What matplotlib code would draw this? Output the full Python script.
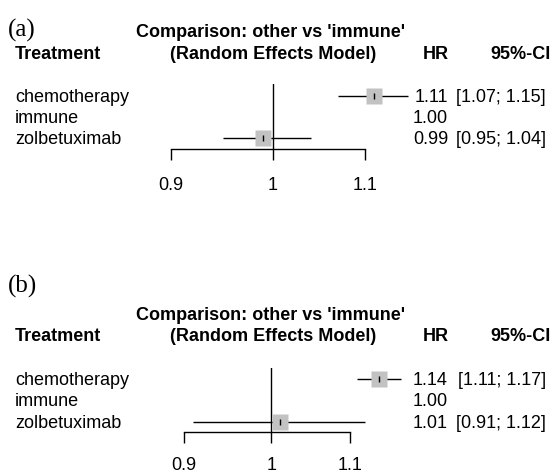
import matplotlib
matplotlib.use("Agg")
import matplotlib.pyplot as plt
import numpy as np

# ---------------- data ----------------
treatments = ["chemotherapy", "immune", "zolbetuximab"]
reference = "immune"

hr_a = [1.11, 1.00, 0.99]
lo_a = [1.07, np.nan, 0.95]
hi_a = [1.15, np.nan, 1.04]

hr_b = [1.14, 1.00, 1.01]
lo_b = [1.11, np.nan, 0.91]
hi_b = [1.17, np.nan, 1.12]

tick_vals = [0.9, 1.0, 1.1]
tick_labels = ["0.9", "1", "1.1"]

panel_labels = ["(a)", "(b)"]
title_line1 = "Comparison: other vs 'immune'"
title_line2 = "(Random Effects Model)"
col_headers = ["Treatment", "HR", "95%-CI"]

# ---------------- layout (pixels) ----------------
W, H, DPI = 553, 473, 100
SANS = "Liberation Sans"
SERIF = "Liberation Serif"
FS = 13
SQ_COLOR = "#c2c2c2"

fig = plt.figure(figsize=(W / DPI, H / DPI), dpi=DPI)


def fx(x):
    return x / W


def fy(y):
    return 1 - y / H


def ftext(x, y, s, **kw):
    kw.setdefault("family", SANS)
    kw.setdefault("fontsize", FS)
    kw.setdefault("color", "black")
    fig.text(fx(x), fy(y), s, **kw)


def fmt_ci(lo, hi):
    if np.isnan(lo):
        return ""
    return f"[{lo:.2f}; {hi:.2f}]"


panels = [
    dict(label=panel_labels[0], hr=hr_a, lo=lo_a, hi=hi_a,
         lab_base=36.5, t1_base=37.3, t2_base=59.3,
         row_base=[101.7, 122.7, 144.3],
         x09=170.7, x11=365.0, ref_top=84.0, axis_y=149.3,
         row_centers=[95.7, 117.0, 138.3], tick_pad=12.3),
    dict(label=panel_labels[1], hr=hr_b, lo=lo_b, hi=hi_b,
         lab_base=292.5, t1_base=320.0, t2_base=341.3,
         row_base=[385.0, 406.5, 427.8],
         x09=184.3, x11=350.0, ref_top=367.7, axis_y=432.3,
         row_centers=[378.5, 400.0, 421.7], tick_pad=10.3),
]

for p in panels:
    # panel label
    ftext(8, p["lab_base"], p["label"], family=SERIF, fontsize=18, va="baseline")
    # titles & headers
    ftext(270, p["t1_base"], title_line1, ha="center", va="baseline", weight="bold")
    ftext(15, p["t2_base"], col_headers[0], ha="left", va="baseline", weight="bold")
    ftext(273, p["t2_base"], title_line2, ha="center", va="baseline", weight="bold")
    ftext(449, p["t2_base"], col_headers[1], ha="right", va="baseline", weight="bold")
    ftext(551, p["t2_base"], col_headers[2], ha="right", va="baseline", weight="bold")

    # row texts
    for i, name in enumerate(treatments):
        yb = p["row_base"][i]
        ftext(15, yb, name, ha="left", va="baseline")
        ftext(448, yb, f"{p['hr'][i]:.2f}", ha="right", va="baseline")
        ci = fmt_ci(p["lo"][i], p["hi"][i])
        if ci:
            ftext(546, yb, ci, ha="right", va="baseline")

    # forest axes
    rc = p["row_centers"]
    step = (rc[-1] - rc[0]) / (len(rc) - 1)
    top_u = (p["ref_top"] - rc[0]) / step
    bot_u = (p["axis_y"] - rc[0]) / step
    ax = fig.add_axes([fx(p["x09"]), fy(p["axis_y"]),
                       (p["x11"] - p["x09"]) / W,
                       (p["axis_y"] - p["ref_top"]) / H])
    ax.set_xscale("log")
    ax.set_xlim(tick_vals[0], tick_vals[-1])
    ax.set_ylim(bot_u, top_u)
    ax.patch.set_visible(False)
    for s in ["top", "left", "right"]:
        ax.spines[s].set_visible(False)
    ax.spines["bottom"].set_linewidth(1.0)
    ax.set_yticks([])
    ax.xaxis.set_minor_locator(matplotlib.ticker.NullLocator())
    ax.set_xticks(tick_vals)
    ax.set_xticklabels(tick_labels, family=SANS, fontsize=FS)
    ax.tick_params(axis="x", direction="out", length=7.6, width=1.0,
                   pad=p["tick_pad"])

    # reference line
    ax.axvline(1.0, color="black", lw=1.0, zorder=1)

    ys = np.arange(len(treatments))
    for i, name in enumerate(treatments):
        if name == reference:
            continue
        ax.plot([p["lo"][i], p["hi"][i]], [ys[i], ys[i]], color="black",
                lw=1.0, clip_on=False, zorder=2, solid_capstyle="butt")
        ax.plot(p["hr"][i], ys[i], marker="s", ms=12, mfc=SQ_COLOR, mec="none",
                clip_on=False, zorder=3, linestyle="none")
        ax.plot(p["hr"][i], ys[i], marker="|", ms=5, mew=1.0, color="black",
                clip_on=False, zorder=4, linestyle="none")

fig.savefig("out.png", dpi=DPI)
